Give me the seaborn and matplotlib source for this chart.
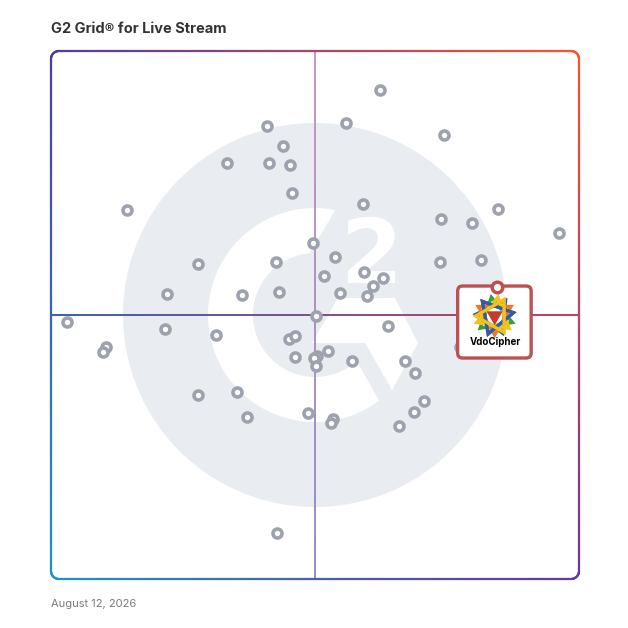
import numpy as np
import seaborn as sns
import matplotlib.pyplot as plt
from matplotlib.collections import LineCollection
from matplotlib.patches import Circle, Polygon, FancyBboxPatch

sns.set_style("white")
plt.rcParams['font.family'] = ['Inter', 'DejaVu Sans']

chart_title = "G2 Grid® for Live Stream"
report_date = "August 12, 2026"
featured_name = "VdoCipher"

# scores 0-100 (x = market presence, y = satisfaction)
market_presence = [62.3, 55.9, 40.9, 74.4, 43.9, 33.3, 41.3, 45.3, 45.6, 14.3,
                   59.0, 73.8, 79.7, 84.7, 96.2, 49.6, 53.8, 27.8, 42.6, 73.7,
                   81.4, 51.7, 59.3, 62.9, 61.0, 59.8, 54.7, 43.2, 36.2, 21.9,
                   3.0, 50.1, 21.5, 31.3, 63.8, 45.1, 46.3, 10.4, 9.9, 52.5,
                   50.4, 49.9, 50.1, 46.3, 57.1, 67.1, 68.9, 77.5, 35.2, 27.8,
                   70.6, 68.8, 48.7, 53.5, 53.0, 37.2, 66.0, 42.8]
satisfaction = [92.6, 86.4, 85.8, 84.1, 82.1, 78.8, 78.8, 78.4, 73.2, 69.9,
                71.0, 68.1, 67.5, 70.1, 65.5, 63.6, 61.0, 59.7, 60.1, 60.0,
                60.4, 57.4, 58.1, 57.1, 55.5, 53.6, 54.2, 54.4, 53.7, 54.0,
                48.7, 49.9, 47.3, 46.2, 48.0, 45.5, 46.1, 43.9, 43.0, 43.2,
                42.3, 41.9, 40.4, 42.0, 41.3, 41.3, 39.1, 43.9, 35.4, 34.8,
                33.7, 31.6, 31.5, 30.3, 29.6, 30.7, 29.0, 8.7]
featured_presence = 84.5
featured_satisfaction = 55.3

fig = plt.figure(figsize=(6.28, 6.28), dpi=100)
ax = fig.add_axes([51 / 628, 49 / 628, 528 / 628, 528 / 628])
ax.set_xlim(0, 100)
ax.set_ylim(0, 100)
ax.axis('off')

U = 5.28  # pixels per score unit


def px(x, y):
    return ((x - 51) / U, (579 - y) / U)


def arc_pt(r, deg, cx=50, cy=50):
    return (cx + r / U * np.cos(np.radians(deg)), cy + r / U * np.sin(np.radians(deg)))


# G2 watermark
ax.add_patch(Circle((50, 50), 192 / U, color='#e9ecf0', lw=0, zorder=0))
outer = [arc_pt(107, a) for a in np.linspace(79, 306.9, 150)]
inner = [arc_pt(62, a) for a in np.linspace(312, 95, 120)]
ax.add_patch(Polygon(outer + inner, closed=True, color='white', lw=0, zorder=0.5))
arrow = [px(338, 298), px(395, 298), px(418, 343), px(392, 390), px(365, 343), px(312, 343)]
ax.add_patch(Polygon(arrow, closed=True, color='white', lw=0, zorder=0.5))
ax.text(*px(372, 283), '2', color='white', fontsize=64, fontweight='bold',
        family='DejaVu Sans', ha='center', va='baseline', zorder=0.5)


def gradient_line(xs, ys, c0, c1, lw, z):
    pts = np.column_stack([xs, ys])
    segs = np.stack([pts[:-1], pts[1:]], axis=1)
    t = np.linspace(0, 1, len(segs))[:, None]
    cols = (1 - t) * np.array(c0) / 255 + t * np.array(c1) / 255
    lc = LineCollection(segs, colors=cols, linewidths=lw, zorder=z, capstyle='butt')
    lc.set_clip_on(False)
    ax.add_collection(lc)


# quadrant lines
n = 300
gradient_line(np.linspace(0, 100, n), np.full(n, 50), (50, 95, 185), (200, 60, 90), 1.4, 1)
gradient_line(np.full(n, 50), np.linspace(100, 0, n), (200, 140, 185), (140, 130, 200), 1.3, 1)

# rounded border with corner gradient
r = 8 / U
pts = []
pts += [(x, 100) for x in np.linspace(r, 100 - r, 200)]
pts += [arc_pt(8, a, 100 - r, 100 - r) for a in np.linspace(90, 0, 20)]
pts += [(100, y) for y in np.linspace(100 - r, r, 200)]
pts += [arc_pt(8, a, 100 - r, r) for a in np.linspace(0, -90, 20)]
pts += [(x, 0) for x in np.linspace(100 - r, r, 200)]
pts += [arc_pt(8, a, r, r) for a in np.linspace(-90, -180, 20)]
pts += [(0, y) for y in np.linspace(r, 100 - r, 200)]
pts += [arc_pt(8, a, r, 100 - r) for a in np.linspace(180, 90, 21)]
pts = np.array(pts)
TL = np.array([80, 58, 170]) / 255
TR = np.array([255, 82, 45]) / 255
BL = np.array([28, 145, 210]) / 255
BR = np.array([112, 50, 158]) / 255
segs = np.stack([pts[:-1], pts[1:]], axis=1)
mid = segs.mean(axis=1) / 100
u, v = mid[:, :1], mid[:, 1:]
cols = (1 - u) * (1 - v) * BL + u * (1 - v) * BR + (1 - u) * v * TL + u * v * TR
border = LineCollection(segs, colors=np.clip(cols, 0, 1), linewidths=1.6, zorder=2, capstyle='round')
border.set_clip_on(False)
ax.add_collection(border)

# products
sns.scatterplot(x=market_presence, y=satisfaction, ax=ax, s=42, color='white',
                edgecolor='#9da2ae', linewidth=2.6, zorder=3, legend=False)

# featured product card
fx, fy = featured_presence, featured_satisfaction
bx0, bx1 = fx - 39.5 / U, fx + 34 / U
by1, by0 = fy + 1 / U, fy - 71 / U
card = FancyBboxPatch((bx0, by0), bx1 - bx0, by1 - by0,
                      boxstyle="round,pad=0,rounding_size=%f" % (5 / U),
                      facecolor='white', edgecolor='#bf5052', lw=2.4, zorder=4)
card.set_clip_on(False)
ax.add_patch(card)

# logo made of coloured triangles
lcx, lcy = fx - 2.5 / U, fy - 29 / U
logo_cols = ['#c62828', '#2a5db0', '#3b9b3f', '#ee7a1f', '#f2c21b', '#2a5db0', '#f2c21b']
logo_rot = [10, 55, 100, 150, 200, 250, 300]
for c, rot in zip(logo_cols, logo_rot):
    tri = [arc_pt(19, rot + k * 120, lcx, lcy) for k in range(3)]
    ax.add_patch(Polygon(tri, closed=True, facecolor='none', edgecolor=c, lw=2.4, zorder=4.5))
for c, rot in zip(['#3b9b3f', '#ee7a1f', '#c62828'], [30, 150, 270]):
    small = [arc_pt(9, rot + k * 120, lcx, lcy) for k in range(3)]
    ax.add_patch(Polygon(small, closed=True, facecolor=c, edgecolor='none', alpha=0.8, zorder=4.6))
ax.text(fx - 2 / U, fy - 55 / U, featured_name, fontsize=7, fontweight='bold',
        color='black', ha='center', va='center', zorder=5)

ax.scatter([fx], [fy], s=58, facecolor='white', edgecolor='#bf5052', linewidth=2.5, zorder=6, clip_on=False)

fig.text(51 / 628, 1 - 29 / 628, chart_title, fontsize=10.5, fontweight='bold',
         color='#333333', ha='left', va='center')
fig.text(51 / 628, 1 - 604 / 628, report_date, fontsize=8, color='#7a7a7a',
         ha='left', va='center')

fig.savefig('out.png', dpi=100)
